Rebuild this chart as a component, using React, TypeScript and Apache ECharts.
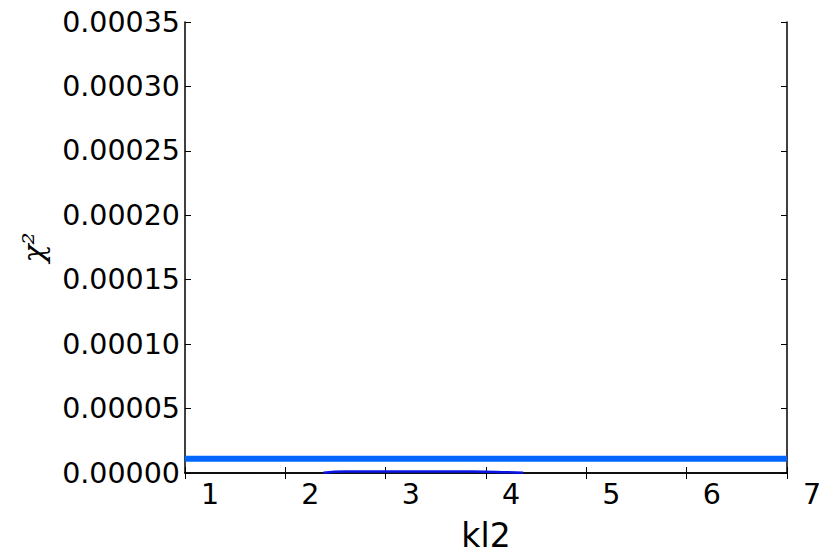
import React, { useEffect, useRef } from "react";
import * as echarts from "echarts";

const xTicks = [1, 2, 3, 4, 5, 6, 7];
const yTicks = [0, 0.00005, 0.0001, 0.00015, 0.0002, 0.00025, 0.0003, 0.00035];

const flatX = [1, 7];
const flatY = [0.0000111, 0.0000111];

const lowX = [2.38, 2.6, 3.0, 3.4, 3.8, 4.1, 4.37];
const lowY = [0.0000002, 0.0000011, 0.0000012, 0.0000012, 0.0000011, 0.0000008, 0.0000001];

const xName = "kl2";
const yName = "χ²";

export default function App() {
  const ref = useRef<HTMLDivElement>(null);
  useEffect(() => {
    if (!ref.current) return;
    const chart = echarts.init(ref.current, undefined, { renderer: "svg" });
    const axisLine = { show: true, lineStyle: { color: "#000", width: 1.5 } };
    const axisTick = { show: true, inside: true, length: 6, lineStyle: { color: "#000", width: 1 } };
    const labelFont = { fontFamily: "DejaVu Sans", fontSize: 28.5, color: "#000" };
    chart.setOption({
      animation: false,
      backgroundColor: "#fff",
      grid: {
        left: 185,
        right: 35,
        top: 22,
        bottom: 83,
        containLabel: false,
        outerBoundsMode: "none",
      },
      xAxis: [
        {
          type: "value",
          min: xTicks[0],
          max: xTicks[xTicks.length - 1],
          interval: 1,
          position: "bottom",
          axisLine,
          axisTick,
          splitLine: { show: false },
          axisLabel: {
            ...labelFont,
            margin: 7,
            align: "left",
            padding: [0, 0, 0, 16],
            showMinLabel: true,
            showMaxLabel: true,
            formatter: (v: number) => String(v),
          },
          name: xName,
          nameLocation: "middle",
          nameGap: 46,
          nameTextStyle: { fontFamily: "DejaVu Sans", fontSize: 33, lineHeight: 33, color: "#000" },
        },
        {
          type: "value",
          min: xTicks[0],
          max: xTicks[xTicks.length - 1],
          interval: 1,
          position: "top",
          axisLine,
          axisTick,
          splitLine: { show: false },
          axisLabel: { show: false },
        },
      ],
      yAxis: [
        {
          type: "value",
          min: yTicks[0],
          max: yTicks[yTicks.length - 1],
          interval: 0.00005,
          position: "left",
          axisLine,
          axisTick,
          splitLine: { show: false },
          axisLabel: {
            ...labelFont,
            margin: 5,
            showMinLabel: true,
            showMaxLabel: true,
            formatter: (v: number) => v.toFixed(5),
          },
          name: yName,
          nameLocation: "middle",
          nameRotate: 90,
          nameGap: 137,
          nameTextStyle: {
            fontFamily: "DejaVu Serif",
            fontStyle: "italic",
            fontSize: 30,
            color: "#000",
          },
        },
        {
          type: "value",
          min: yTicks[0],
          max: yTicks[yTicks.length - 1],
          interval: 0.00005,
          position: "right",
          axisLine,
          axisTick,
          splitLine: { show: false },
          axisLabel: { show: false },
        },
      ],
      series: [
        {
          type: "line",
          xAxisIndex: 0,
          yAxisIndex: 0,
          data: lowX.map((x, i) => [x, lowY[i]]),
          symbol: "none",
          smooth: true,
          lineStyle: { color: "#0a14e6", width: 2.5 },
          z: 3,
        },
        {
          type: "line",
          xAxisIndex: 0,
          yAxisIndex: 0,
          data: flatX.map((x, i) => [x, flatY[i]]),
          symbol: "none",
          lineStyle: { color: "#0066ff", width: 6 },
          z: 4,
        },
      ],
    });
    return () => chart.dispose();
  }, []);
  return (
    <div
      ref={ref}
      style={{ position: "fixed", left: 0, top: 0, width: 822, height: 556, background: "#fff" }}
    />
  );
}
